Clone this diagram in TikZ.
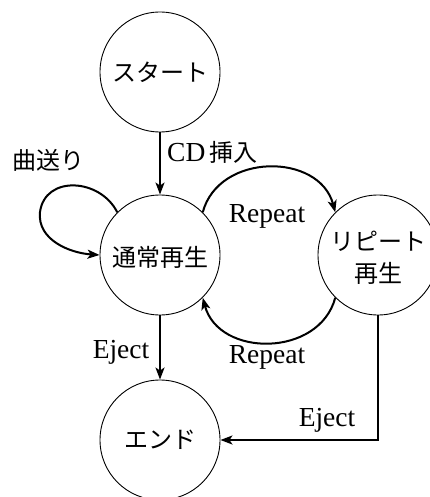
\documentclass[tikz,border=0pt]{standalone}
\usepackage{fontspec}
\setmainfont{Liberation Serif}
\newfontfamily\jp{Noto Sans CJK JP}
\usetikzlibrary{arrows.meta}
\begin{document}
\begin{tikzpicture}[x=1pt,y=1pt,
  state/.style={circle,draw,line width=0.9pt,minimum size=120pt,inner sep=0pt,
    font=\fontsize{24}{30}\selectfont\jp,align=center},
  arr/.style={line width=2pt,-{Stealth[length=12pt,width=9pt,inset=3pt]}},
  lbl/.style={font=\fontsize{27.5}{30}\selectfont,inner sep=0pt}]
\useasboundingbox (0,0) rectangle (430,-497);
\clip (0,0) rectangle (430,-497);
\node[state] (s) at (160,-72) {スタート};
\node[state] (n) at (160,-255) {};
\node[font=\fontsize{24}{30}\selectfont\jp] (nt) at (160,-257) {通常再生};
\node[state] (r) at (378,-255) {};
\node[font=\fontsize{24}{30}\selectfont\jp,align=center,inner sep=0pt] (rt) at (378,-258) {リピート\\[2pt]再生};
\node[state] (e) at (160,-440) {エンド};
% arrows
\draw[arr] (s) -- (n);
\draw[arr] (n.135) .. controls (100,-178) and (45,-175) .. (40,-212)
           .. controls (37,-240) and (70,-253) .. (n.180);
\draw[arr] (n.45) to[out=75,in=105,looseness=1.2] (r.135);
\draw[arr] (r.225) to[out=-105,in=-75,looseness=1.2] (n.-45);
\draw[arr] (n) -- (e);
\draw[arr] (r.south) |- (e.east);
% labels
\node[lbl,anchor=west] (l1) at (167,-152) {CD\,{\fontsize{24}{30}\selectfont\jp 挿入}};
\node[lbl,anchor=west] (l2) at (12,-160) {\fontsize{24}{30}\selectfont\jp 曲送り};
\node[lbl] (l3) at (267,-216) {Repeat};
\node[lbl] (l4) at (267,-357) {Repeat};
\node[lbl] (l5) at (121,-352) {Eject};
\node[lbl] (l6) at (327,-420) {Eject};
\end{tikzpicture}
\end{document}
